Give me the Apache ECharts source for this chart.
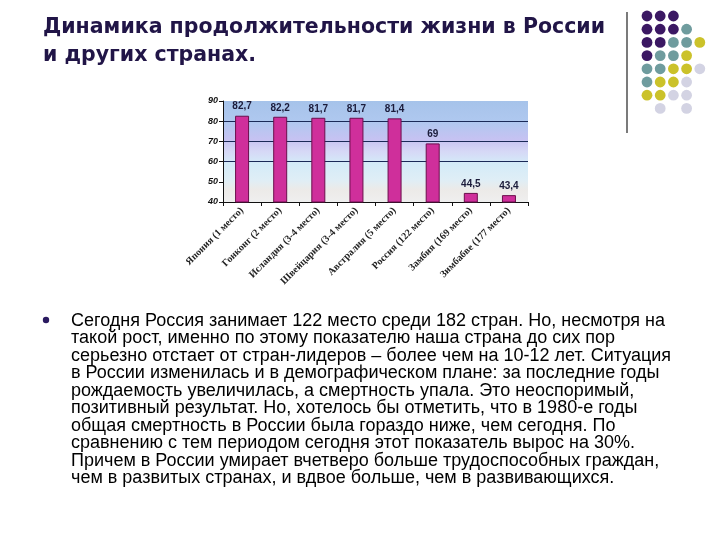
<!DOCTYPE html>
<html>
<head>
<meta charset="utf-8">
<script src="https://cdn.jsdelivr.net/npm/echarts@6/dist/echarts.min.js"></script>
<style>
html,body{margin:0;padding:0;background:#fff;}
#c{width:720px;height:540px;}
</style>
</head>
<body>
<div id="c"></div>
<script>
const categories = [
  "Япония (1 место)",
  "Гонконг (2 место)",
  "Исландия (3-4 место)",
  "Швейцария (3-4 место)",
  "Австралия (5 место)",
  "Россия (122 место)",
  "Замбия (169 место)",
  "Зимбабве (177 место)"
];
const lifeExpectancy = [82.7, 82.2, 81.7, 81.7, 81.4, 69, 44.5, 43.4];
const yTicks = [40, 50, 60, 70, 80, 90];
const titleText = "Динамика продолжительности жизни в России\nи других странах.";
const bodyLines = [
  "Сегодня Россия занимает 122 место среди 182 стран. Но, несмотря на",
  "такой рост, именно по этому показателю наша страна до сих пор",
  "серьезно отстает от стран-лидеров – более чем на 10-12 лет. Ситуация",
  "в России изменилась и в демографическом плане: за последние годы",
  "рождаемость увеличилась, а смертность упала. Это неоспоримый,",
  "позитивный результат. Но, хотелось бы отметить, что в 1980-е годы",
  "общая смертность в России была гораздо ниже, чем сегодня. По",
  "сравнению с тем периодом сегодня этот показатель вырос на 30%.",
  "Причем в России умирает вчетверо больше трудоспособных граждан,",
  "чем в развитых странах, и вдвое больше, чем в развивающихся."
];

// decorative dot pattern (row strings: P purple, T teal, Y yellow, L lavender, . empty)
const dotRows = ["PPP..", "PPPT.", "PPTTY", "PTTY.", "TTYYL", "TYYL.", "YYLL.", ".L.L."];
const dotColors = {P: "#3b1863", T: "#6f9c9e", Y: "#cbc22a", L: "#d3d3e3"};

const chart = echarts.init(document.getElementById('c'));
const graphics = [];
dotRows.forEach((row, r) => {
  row.split('').forEach((ch, c) => {
    if (ch === '.') return;
    graphics.push({type: 'circle', shape: {cx: 647 + c * 13.2, cy: 16 + r * 13.2, r: 5.4},
      style: {fill: dotColors[ch]}, silent: true});
  });
});
graphics.push({type: 'line', shape: {x1: 627, y1: 12, x2: 627, y2: 133}, style: {stroke: '#222', lineWidth: 1.2}});
graphics.push({type: 'circle', shape: {cx: 46, cy: 320, r: 3.2}, style: {fill: '#2a1a60'}});
bodyLines.forEach((t, i) => {
  graphics.push({type: 'text', left: 71, top: 312 + i * 17.5,
    style: {text: t, font: '18px "Liberation Sans", Arial, sans-serif', fill: '#000'}});
});

chart.setOption({
  animation: false,
  backgroundColor: '#fff',
  title: {
    text: titleText, left: 38, top: 9,
    textStyle: {fontSize: 20.5, fontWeight: 'bold', color: '#211547', lineHeight: 28,
      fontFamily: '"DejaVu Sans", Verdana, sans-serif'}
  },
  graphic: graphics,
  grid: {
    left: 223, top: 101, width: 305, height: 101, show: true, borderWidth: 0,
    backgroundColor: {
      type: 'linear', x: 0, y: 0, x2: 0, y2: 1,
      colorStops: [
        {offset: 0, color: '#a6c3ea'},
        {offset: 0.2, color: '#afc8ef'},
        {offset: 0.38, color: '#c6c2f2'},
        {offset: 0.5, color: '#d6d8f6'},
        {offset: 0.62, color: '#d4ebf8'},
        {offset: 0.78, color: '#dfeef6'},
        {offset: 0.88, color: '#eceae8'},
        {offset: 1, color: '#efefef'}
      ]
    }
  },
  xAxis: {
    type: 'category', data: categories,
    axisLine: {lineStyle: {color: '#111', width: 1}},
    axisTick: {show: true, alignWithLabel: false, lineStyle: {color: '#111'}, length: 4},
    axisLabel: {rotate: 45, interval: 0, fontSize: 10, fontWeight: 'bold', color: '#222', margin: 7,
      fontFamily: '"Liberation Serif", "Times New Roman", serif'}
  },
  yAxis: {
    type: 'value', min: 40, max: 90, interval: 10,
    axisLine: {show: true, lineStyle: {color: '#111'}},
    axisTick: {show: true, lineStyle: {color: '#111'}, length: 4},
    axisLabel: {fontSize: 9, fontWeight: 'bold', fontStyle: 'italic', color: '#111', margin: 5,
      formatter: v => yTicks.includes(v) ? String(v) : ''},
    splitLine: {show: true, lineStyle: {color: ['transparent', 'transparent', '#1b2a58', '#1b2a58', '#1b2a58', 'transparent'], width: 1}}
  },
  series: [{
    type: 'bar', data: lifeExpectancy, barWidth: 14,
    itemStyle: {color: '#cf2f9b', borderColor: '#6b0f4c', borderWidth: 1},
    label: {show: true, position: 'top', distance: 4, fontSize: 10, fontWeight: 'bold', color: '#1b1b3a',
      formatter: p => String(p.value).replace('.', ',')}
  }]
});
</script>
</body>
</html>
